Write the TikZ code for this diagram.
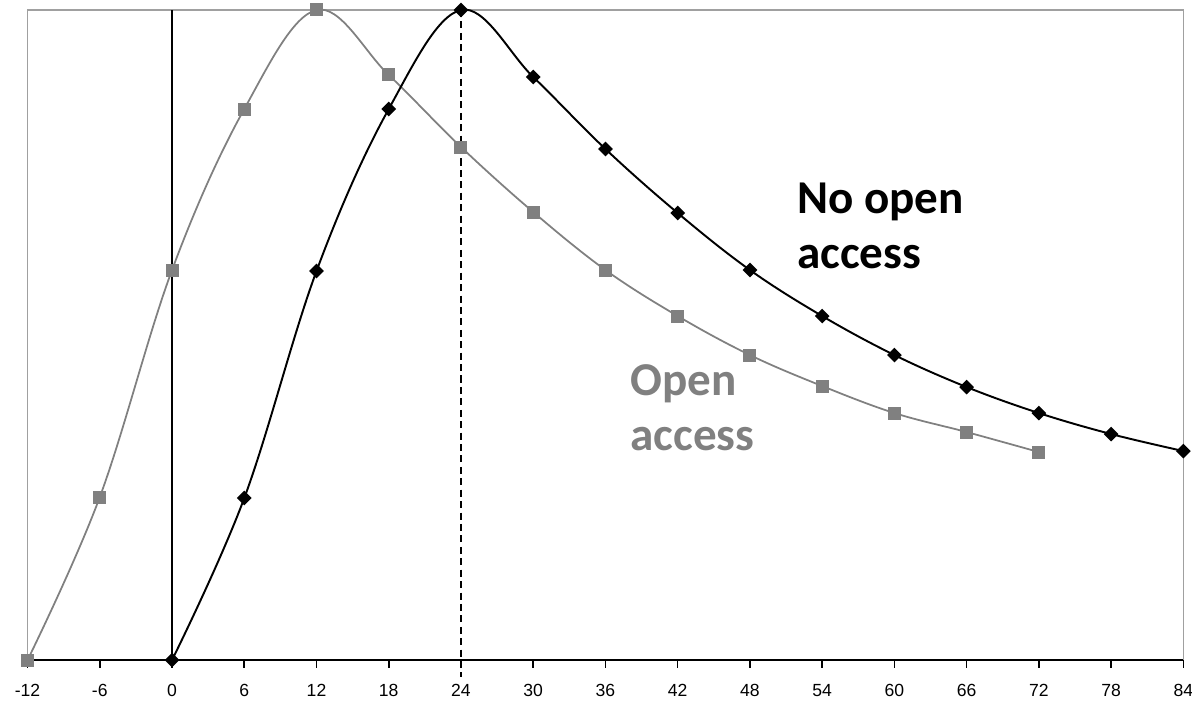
\documentclass[tikz,border=0pt]{standalone}
\usepackage{fontspec}
\usetikzlibrary{shapes.geometric}
\newfontfamily\calfont{Carlito}
\newfontfamily\arialfont{Liberation Sans}
\definecolor{oagray}{HTML}{808080}
\definecolor{framegray}{HTML}{A0A0A0}

\begin{document}
\begin{tikzpicture}[
    x=0.2408cm, y=0.02cm,
    every node/.style={inner sep=0pt},
    oamark/.style={rectangle, fill=oagray, minimum size=0.26cm},
    noamark/.style={diamond, fill=black, minimum size=0.3cm},
    ticklbl/.style={font=\arialfont\fontsize{10}{12}\selectfont},
    curvelbl/.style={font=\calfont\bfseries\fontsize{26.8}{30}\selectfont, anchor=base west}
]
    \useasboundingbox (-14.29,-45) rectangle (84.72,660);

    % Frame and axis
    \draw[framegray, line width=0.9pt] (-12,0) -- (-12,650) -- (84,650) -- (84,0);
    \draw[line width=0.9pt] (-12,0) -- (84,0);
    \foreach \t in {-12,-6,...,84} {
        \draw[line width=0.9pt] (\t,0) -- (\t,-8);
        \node[ticklbl] (t\t) at (\t,-30) {\t};
    }
    \draw[line width=0.7pt] (0,0) -- (0,650);
    \draw[dash pattern=on 4pt off 2.5pt, line width=0.7pt] (24,650) -- (24,-17);

    % Curves
    \draw[oagray, line width=1pt] plot[smooth, tension=0.6] coordinates {
        (-12,0) (-6,163) (0,390) (6,551) (12,650) (18,585) (24,513) (30,448)
        (36,390) (42,344) (48,305) (54,274) (60,247) (66,228) (72,208)};
    \draw[black, line width=1.1pt] plot[smooth, tension=0.6] coordinates {
        (0,0) (6,162) (12,389) (18,551) (24,650) (30,583) (36,511) (42,447)
        (48,390) (54,344) (60,305) (66,273) (72,247) (78,226) (84,209)};

    % Markers
    \foreach \x/\y in {-12/0, -6/163, 0/390, 6/551, 12/650, 18/585, 24/513, 30/448,
        36/390, 42/344, 48/305, 54/274, 60/247, 66/228, 72/208}
        \node[oamark] (oa\x) at (\x,\y) {};
    \foreach \x/\y in {0/0, 6/162, 12/389, 18/551, 24/650, 30/583, 36/511, 42/447,
        48/390, 54/344, 60/305, 66/273, 72/247, 78/226, 84/209}
        \node[noamark] (noa\x) at (\x,\y) {};

    % Labels
    \node[curvelbl] (noatop) at (51.9,447) {No open};
    \node[curvelbl] (noabot) at (51.9,392) {access};
    \node[curvelbl, oagray] (oatop) at (38.04,265) {Open};
    \node[curvelbl, oagray] (oabot) at (38.04,210) {access};
\end{tikzpicture}
\end{document}
